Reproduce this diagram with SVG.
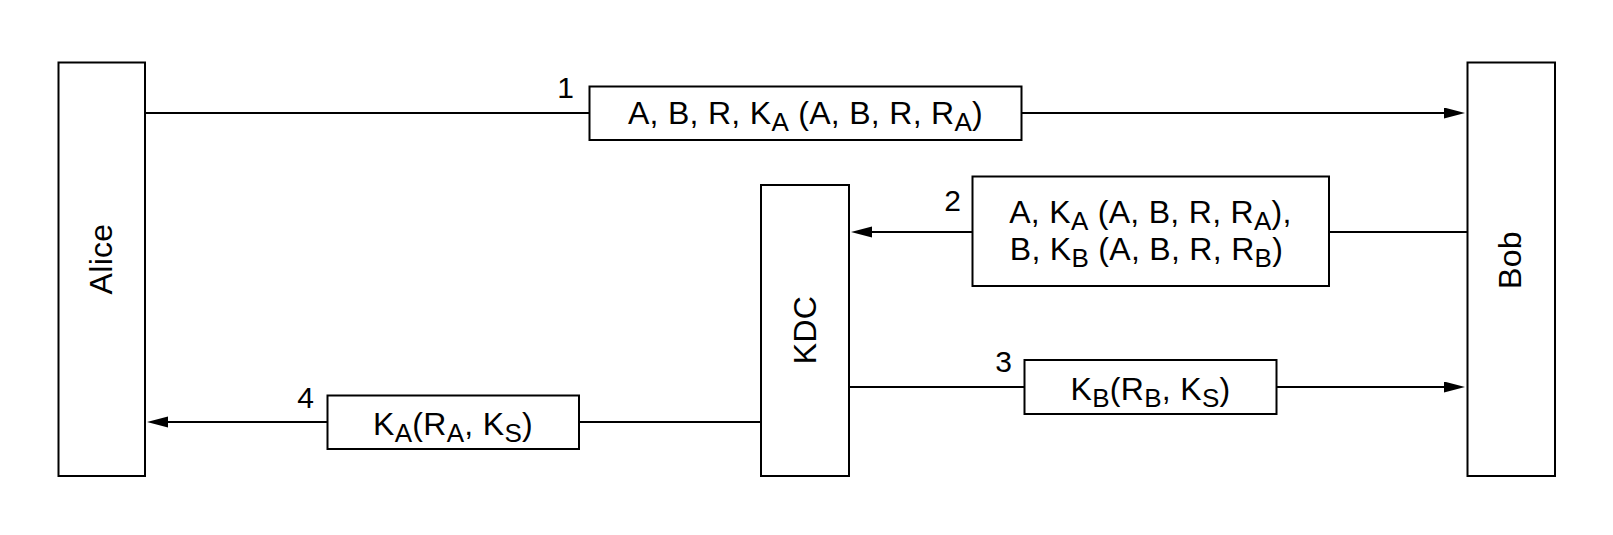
<svg xmlns="http://www.w3.org/2000/svg" width="1613" height="535" viewBox="0 0 1613 535">
<style>
.box{fill:#fff;stroke:#000;stroke-width:2}
.ln{stroke:#000;stroke-width:2;fill:none}
.t{font-family:"Liberation Sans",Arial,Helvetica,sans-serif;font-size:32px;fill:#000;letter-spacing:0.3px}
.n{font-family:"Liberation Sans",Arial,Helvetica,sans-serif;font-size:30px;fill:#000;text-anchor:end}
.m{text-anchor:middle}
</style>
<defs>
<marker id="ah" markerUnits="userSpaceOnUse" markerWidth="22" markerHeight="12" refX="13" refY="5.5" orient="auto">
<path d="M0,0 L21,5.5 L0,11 z" fill="#000"/>
</marker>
</defs>
<rect width="1613" height="535" fill="#fff"/>
<g id="alice">
<rect class="box" x="58.5" y="62.5" width="86.5" height="413.5"/>
<text class="t m" transform="translate(112,259) rotate(-90)">Alice</text>
</g>
<g id="kdc">
<rect class="box" x="761" y="185" width="88" height="291"/>
<text class="t m" transform="translate(816,330) rotate(-90)">KDC</text>
</g>
<g id="bob">
<rect class="box" x="1467.5" y="62.5" width="87.5" height="413.5"/>
<text class="t m" transform="translate(1521,260) rotate(-90)">Bob</text>
</g>
<g id="connectors">
<line class="ln" x1="145" y1="113" x2="589.5" y2="113"/>
<line class="ln" x1="1021.5" y1="113" x2="1457" y2="113" marker-end="url(#ah)"/>
<line class="ln" x1="1467.5" y1="232" x2="1329" y2="232"/>
<line class="ln" x1="972.5" y1="232" x2="859" y2="232" marker-end="url(#ah)"/>
<line class="ln" x1="849" y1="387" x2="1024.5" y2="387"/>
<line class="ln" x1="1276.5" y1="387" x2="1457" y2="387" marker-end="url(#ah)"/>
<line class="ln" x1="761" y1="422" x2="579" y2="422"/>
<line class="ln" x1="327.5" y1="422" x2="155" y2="422" marker-end="url(#ah)"/>
</g>
<g id="msg1">
<rect class="box" x="589.5" y="86.5" width="432" height="53.5"/>
<text class="t m" x="805.5" y="124">A, B, R, K<tspan font-size="26" dy="7">A</tspan><tspan dy="-7"> (A, B, R, R</tspan><tspan font-size="26" dy="7">A</tspan><tspan dy="-7">)</tspan></text>
<text class="n" x="574" y="98">1</text>
</g>
<g id="msg2">
<rect class="box" x="972.5" y="176.5" width="356.5" height="109.5"/>
<text class="t m" x="1150.5" y="222.5">A, K<tspan font-size="26" dy="7">A</tspan><tspan dy="-7"> (A, B, R, R</tspan><tspan font-size="26" dy="7">A</tspan><tspan dy="-7">),</tspan></text>
<text class="t m" x="1146.5" y="259.5">B, K<tspan font-size="26" dy="7">B</tspan><tspan dy="-7"> (A, B, R, R</tspan><tspan font-size="26" dy="7">B</tspan><tspan dy="-7">)</tspan></text>
<text class="n" x="961" y="211">2</text>
</g>
<g id="msg3">
<rect class="box" x="1024.5" y="360" width="252" height="54"/>
<text class="t m" x="1150.5" y="399.5">K<tspan font-size="26" dy="7">B</tspan><tspan dy="-7">(R</tspan><tspan font-size="26" dy="7">B</tspan><tspan dy="-7">, K</tspan><tspan font-size="26" dy="7">S</tspan><tspan dy="-7">)</tspan></text>
<text class="n" x="1012" y="372">3</text>
</g>
<g id="msg4">
<rect class="box" x="327.5" y="395.5" width="251.5" height="53.5"/>
<text class="t m" x="453" y="435">K<tspan font-size="26" dy="7">A</tspan><tspan dy="-7">(R</tspan><tspan font-size="26" dy="7">A</tspan><tspan dy="-7">, K</tspan><tspan font-size="26" dy="7">S</tspan><tspan dy="-7">)</tspan></text>
<text class="n" x="314" y="408">4</text>
</g>
</svg>
